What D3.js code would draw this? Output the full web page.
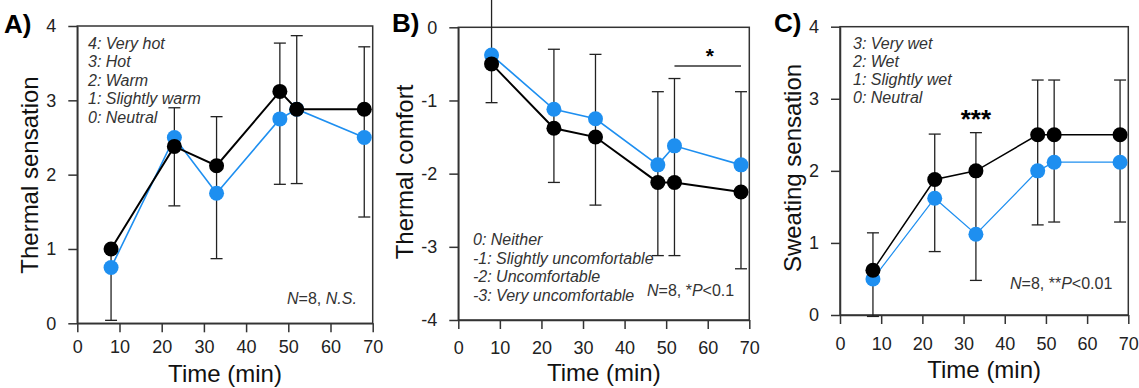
<!DOCTYPE html>
<html>
<head>
<meta charset="utf-8">
<style>
    body { margin: 0; background: white; }
    svg { display: block; font-family: "Liberation Sans", Arial, sans-serif; }
    .legend { font-style: italic; fill: #333; font-size: 16px; }
</style>
</head>
<body>
<svg width="1139" height="388"></svg>
<script src="https://d3js.org/d3.v7.min.js"></script>
<script>
// shared time points (min)
let times = [8, 23, 33, 48, 52, 68];
let xTicks = [0, 10, 20, 30, 40, 50, 60, 70];

// A) thermal sensation
let sensBlack = [1.0, 2.38, 2.12, 3.12, 2.88, 2.88];
let sensBlue = [0.75, 2.5, 1.75, 2.75, 2.88, 2.5];
let sensLo = [0.04, 1.58, 0.87, 1.87, 1.88, 1.43];
let sensHi = [1.0, 2.9, 2.78, 3.77, 3.87, 3.72];
let sensLegend = ["4: Very hot", "3: Hot", "2: Warm", "1: Slightly warm", "0: Neutral"];

// B) thermal comfort
let comfBlack = [-0.5, -1.38, -1.5, -2.12, -2.12, -2.25];
let comfBlue = [-0.38, -1.12, -1.25, -1.88, -1.62, -1.88];
let comfLo = [-1.03, -2.12, -2.43, -3.12, -3.12, -3.3];
let comfHi = [0.4, -0.3, -0.37, -0.88, -0.7, -0.88];
let comfLegend = ["0: Neither", "-1: Slightly uncomfortable", "-2: Uncomfortable", "-3: Very uncomfortable"];

// C) sweating sensation
let sweatBlack = [0.62, 1.88, 2.0, 2.5, 2.5, 2.5];
let sweatBlue = [0.5, 1.62, 1.12, 2.0, 2.12, 2.12];
let sweatLo = [-0.02, 0.88, 0.48, 1.25, 1.29, 1.29];
let sweatHi = [1.14, 2.51, 2.53, 3.26, 3.26, 3.26];
let sweatLegend = ["3: Very wet", "2: Wet", "1: Slightly wet", "0: Neutral"];

let blue = "#1e8ff0";
let svg = d3.select("svg");

let panels = [
    {
        tag: "A)", ylabel: "Thermal sensation", ydom: [0, 4], yticks: [0, 1, 2, 3, 4],
        black: sensBlack, blue: sensBlue, lo: sensLo, hi: sensHi, legend: sensLegend,
        note: [["N", true], ["=8, ", false], ["N.S.", true]],
        box: { l: 77.3, r: 372.7, t: 26, b: 323.3 }, xpad: 8, tagPos: [4, 33],
        ylabX: 38, ylabY: 175, xlabY: 382, legX: 88, legY: 48.7, legDy: 18.5, noteX: 287, noteY: 304,
        blackW: 2, blueW: 1.6
    },
    {
        tag: "B)", ylabel: "Thermal comfort", ydom: [-4, 0], yticks: [-4, -3, -2, -1, 0],
        black: comfBlack, blue: comfBlue, lo: comfLo, hi: comfHi, legend: comfLegend,
        note: [["N", true], ["=8, *", false], ["P", true], ["<0.1", false]],
        box: { l: 458.3, r: 749.3, t: 27.3, b: 320 }, xpad: 12.5, tagPos: [392, 32],
        ylabX: 413, ylabY: 172, xlabY: 381, legX: 473, legY: 245, legDy: 18.5, noteX: 647, noteY: 296,
        blackW: 2, blueW: 1.6,
        sig: { x0: 52, x1: 68, y: -0.53, star: "*", sx: 60.5 }
    },
    {
        tag: "C)", ylabel: "Sweating sensation", ydom: [0, 4], yticks: [0, 1, 2, 3, 4],
        black: sweatBlack, blue: sweatBlue, lo: sweatLo, hi: sweatHi, legend: sweatLegend,
        note: [["N", true], ["=8, **", false], ["P", true], ["<0.01", false]],
        box: { l: 840, r: 1128.3, t: 26.7, b: 315 }, xpad: 13, tagPos: [774, 32],
        ylabX: 801, ylabY: 168, xlabY: 378, legX: 853, legY: 49, legDy: 18, noteX: 1010, noteY: 289,
        blackW: 1.5, blueW: 1.2,
        stars: { x: 33, y: 2.6, text: "***" }
    }
];

panels.forEach(p => {
    let g = svg.append("g");
    let x = d3.scaleLinear().domain([0, 70]).range([p.box.l, p.box.r]);
    let y = d3.scaleLinear().domain(p.ydom).range([p.box.b, p.box.t]);

    // frame
    g.append("rect")
        .attr("x", p.box.l).attr("y", p.box.t)
        .attr("width", p.box.r - p.box.l).attr("height", p.box.b - p.box.t)
        .attr("fill", "none").attr("stroke", "#333").attr("stroke-width", 1.5);

    let xa = g.append("g").attr("transform", `translate(0,${p.box.b})`)
        .call(d3.axisBottom(x).tickValues(xTicks).tickSize(9).tickSizeOuter(0).tickPadding(p.xpad));
    let ya = g.append("g").attr("transform", `translate(${p.box.l},0)`)
        .call(d3.axisLeft(y).tickValues(p.yticks).tickSize(9).tickSizeOuter(0).tickPadding(12).tickFormat(d => String(d)));
    [xa, ya].forEach(a => {
        a.selectAll("path,line").attr("stroke", "#333").attr("stroke-width", 1.5);
        a.selectAll("text").attr("font-size", 18).attr("fill", "#222")
            .attr("font-family", "Liberation Sans, Arial, sans-serif");
    });

    // error bars
    let eb = g.append("g").attr("stroke", "#222").attr("stroke-width", 1.3);
    times.forEach((t, i) => {
        eb.append("line").attr("x1", x(t)).attr("x2", x(t)).attr("y1", y(p.lo[i])).attr("y2", y(p.hi[i]));
        [p.lo[i], p.hi[i]].forEach(v => {
            eb.append("line").attr("x1", x(t) - 6).attr("x2", x(t) + 6).attr("y1", y(v)).attr("y2", y(v));
        });
    });

    let line = d3.line().x((d, i) => x(times[i])).y(d => y(d));
    [[p.blue, blue, p.blueW], [p.black, "#000", p.blackW]].forEach(([vals, col, w]) => {
        g.append("path").datum(vals).attr("d", line)
            .attr("fill", "none").attr("stroke", col).attr("stroke-width", w);
        g.selectAll(null).data(vals).join("circle")
            .attr("cx", (d, i) => x(times[i])).attr("cy", d => y(d))
            .attr("r", 7.5).attr("fill", col);
    });

    // legend of scale
    p.legend.forEach((s, i) => {
        g.append("text").attr("class", "legend")
            .attr("x", p.legX).attr("y", p.legY + i * p.legDy).text(s);
    });

    let note = g.append("text").attr("x", p.noteX).attr("y", p.noteY)
        .attr("font-size", 16).attr("fill", "#333");
    p.note.forEach(([s, it]) => note.append("tspan").attr("font-style", it ? "italic" : "normal").text(s));

    if (p.sig) {
        g.append("line").attr("x1", x(p.sig.x0)).attr("x2", x(p.sig.x1))
            .attr("y1", y(p.sig.y)).attr("y2", y(p.sig.y)).attr("stroke", "#333").attr("stroke-width", 1.5);
        g.append("text").attr("x", x(p.sig.sx)).attr("y", y(p.sig.y) - 3)
            .attr("text-anchor", "middle").attr("font-size", 21).attr("font-weight", "bold").text(p.sig.star);
    }
    if (p.stars) {
        g.append("text").attr("x", x(p.stars.x)).attr("y", y(p.stars.y))
            .attr("text-anchor", "middle").attr("font-size", 26).attr("font-weight", "bold").text(p.stars.text);
    }

    // labels
    g.append("text").attr("x", p.tagPos[0]).attr("y", p.tagPos[1])
        .attr("font-size", 26).attr("font-weight", "bold").text(p.tag);
    g.append("text").attr("transform", `translate(${p.ylabX},${p.ylabY}) rotate(-90)`)
        .attr("text-anchor", "middle").attr("font-size", 24).attr("fill", "#111").text(p.ylabel);
    g.append("text").attr("x", (p.box.l + p.box.r) / 2).attr("y", p.xlabY)
        .attr("text-anchor", "middle").attr("font-size", 24).attr("fill", "#111").text("Time (min)");
});
</script>
</body>
</html>
